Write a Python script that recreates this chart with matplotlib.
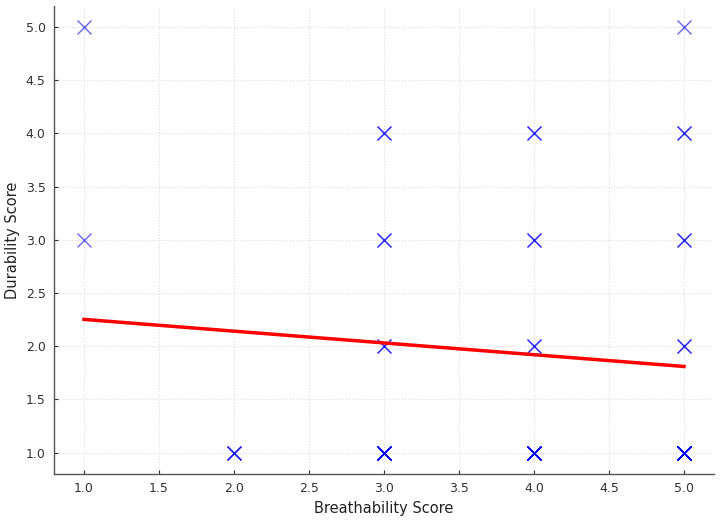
import numpy as np
import matplotlib
matplotlib.use("Agg")
import matplotlib.pyplot as plt

# Raw observations (duplicates included)
breathability = ([1, 1] + [2] * 3
                 + [3] * 2 + [3] * 2 + [3] * 2 + [3] * 7
                 + [4] * 2 + [4] * 2 + [4] * 2 + [4] * 8
                 + [5] + [5] * 2 + [5] * 2 + [5] * 2 + [5] * 10)
durability = ([5, 3] + [1] * 3
              + [4] * 2 + [3] * 2 + [2] * 2 + [1] * 7
              + [4] * 2 + [3] * 2 + [2] * 2 + [1] * 8
              + [5] + [4] * 2 + [3] * 2 + [2] * 2 + [1] * 10)

x = np.array(breathability, dtype=float)
y = np.array(durability, dtype=float)

fig = plt.figure(figsize=(7.2, 5.21), dpi=100)
ax = fig.add_axes([0.075, 0.0902, 0.9167, 0.899])

ax.scatter(x, y, marker='x', s=100, color='blue', alpha=0.6, linewidths=1.0, zorder=3)

slope, intercept = np.polyfit(x, y, 1)
xs = np.linspace(x.min(), x.max(), 100)
ax.plot(xs, slope * xs + intercept, color='red', linewidth=2.5, zorder=4)

ax.set_xlim(0.8, 5.2)
ax.set_ylim(0.8, 5.2)
ax.set_xticks(np.arange(1.0, 5.01, 0.5))
ax.set_yticks(np.arange(1.0, 5.01, 0.5))
ax.xaxis.set_major_formatter(matplotlib.ticker.FormatStrFormatter('%.1f'))
ax.yaxis.set_major_formatter(matplotlib.ticker.FormatStrFormatter('%.1f'))

ax.grid(True, color='#dddddd', linestyle=':', linewidth=0.8)
ax.set_axisbelow(True)
for s in ['top', 'right']:
    ax.spines[s].set_visible(False)
for s in ['left', 'bottom']:
    ax.spines[s].set_color('#555555')
    ax.spines[s].set_linewidth(1.0)
ax.tick_params(direction='in', length=3, colors='#333333', labelsize=9, pad=6)

ax.set_xlabel('Breathability Score', fontsize=10.5, color='#222222', labelpad=4)
ax.set_ylabel('Durability Score', fontsize=10.5, color='#222222', labelpad=4)

fig.savefig('out.png', dpi=100)
